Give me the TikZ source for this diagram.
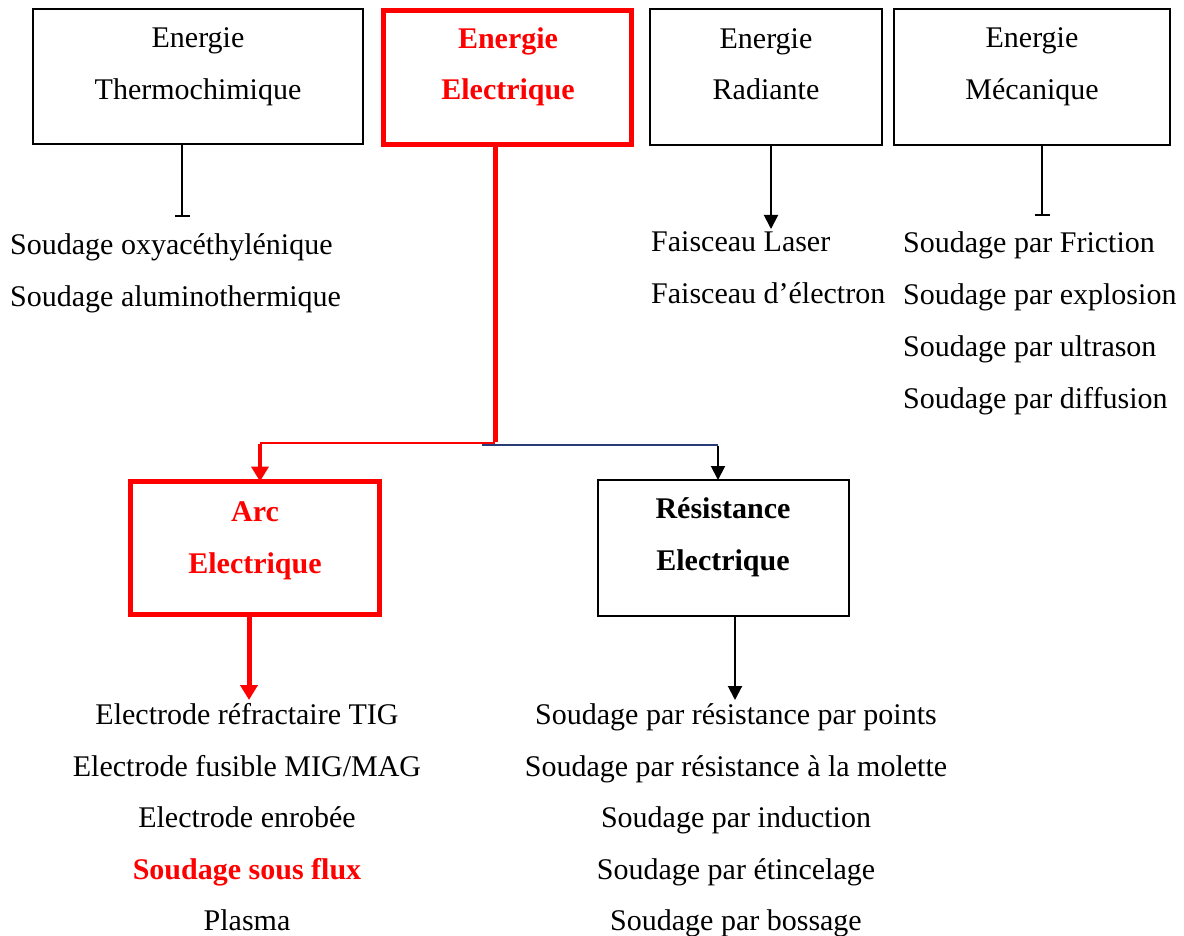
\documentclass[tikz,border=0pt]{standalone}
\usepackage{fontspec}
\setmainfont{Liberation Serif}
\usetikzlibrary{arrows.meta}
\definecolor{pred}{RGB}{255,0,0}
\definecolor{lineblue}{RGB}{40,60,120}
\begin{document}
\begin{tikzpicture}[x=1pt,y=-1pt,
  bbox/.style={draw=black,line width=2pt,minimum width=#1,inner sep=0pt,outer sep=0pt},
  rbox/.style={draw=pred,line width=5pt,minimum width=#1,inner sep=0pt,outer sep=0pt},
  txt/.style={font=\fontsize{30}{51.5}\selectfont,align=center,inner sep=0pt},
  ltxt/.style={font=\fontsize{30}{51.5}\selectfont,anchor=base west,inner sep=0pt},
  ctxt/.style={font=\fontsize{30}{51.5}\selectfont,anchor=base,inner sep=0pt},
  conn/.style={draw=black,line width=2pt},
  rconn/.style={draw=pred,line width=5pt},
  tip/.style={-{Triangle[width=14pt,length=14pt]}},
  rtip/.style={-{Triangle[width=17pt,length=15pt]}},
  bartip/.style={-{Bar[width=15pt,line width=2pt]}}
]
\useasboundingbox (0,0) rectangle (1184,936);
% boxes
\node[bbox=330pt,minimum height=135pt] (thermo) at (198,76.5) {};
\node[rbox=248pt,minimum height=134pt] (elec) at (507.5,77.5) {};
\node[bbox=232pt,minimum height=136pt] (rad) at (766,77) {};
\node[bbox=276pt,minimum height=136pt] (meca) at (1032,77) {};
\node[rbox=249pt,minimum height=133pt] (arc) at (255,548) {};
\node[bbox=251pt,minimum height=136pt] (res) at (723.5,548) {};
% box texts
\node[txt] (thermoT) at (198,67) {Energie\\Thermochimique};
\node[txt,text=pred,font=\fontsize{30}{51.5}\selectfont\bfseries] (elecT) at (508,67) {Energie\\Electrique};
\node[txt] (radT) at (766,64) {Energie\\Radiante};
\node[txt] (mecaT) at (1032,67) {Energie\\Mécanique};
\node[txt,text=pred,font=\fontsize{30}{51.5}\selectfont\bfseries] (arcT) at (255,541) {Arc\\Electrique};
\node[txt,font=\fontsize{30}{51.5}\selectfont\bfseries] (resT) at (723,537.5) {Résistance\\Electrique};
% lists
\node[ltxt] (t1) at (10,255) {Soudage oxyacéthylénique};
\node[ltxt] (t2) at (10,306) {Soudage aluminothermique};
\node[ltxt] (r1) at (651,252) {Faisceau Laser};
\node[ltxt] (r2) at (651,304) {Faisceau d’électron};
\node[ltxt] (m1) at (903,253) {Soudage par Friction};
\node[ltxt] (m2) at (903,305) {Soudage par explosion};
\node[ltxt] (m3) at (903,356) {Soudage par ultrason};
\node[ltxt] (m4) at (903,408) {Soudage par diffusion};
\node[ctxt] (a1) at (247,724) {Electrode réfractaire TIG};
\node[ctxt] (a2) at (247,776) {Electrode fusible MIG/MAG};
\node[ctxt] (a3) at (247,827) {Electrode enrobée};
\node[ctxt,text=pred,font=\fontsize{30}{51.5}\selectfont\bfseries] (a4) at (247,879) {Soudage sous flux};
\node[ctxt] (a5) at (247,930) {Plasma};
\node[ctxt] (s1) at (736,724) {Soudage par résistance par points};
\node[ctxt] (s2) at (736,776) {Soudage par résistance à la molette};
\node[ctxt] (s3) at (736,827) {Soudage par induction};
\node[ctxt] (s4) at (736,879) {Soudage par étincelage};
\node[ctxt] (s5) at (736,930) {Soudage par bossage};
% connector end points
\coordinate (thermoEnd) at (182,217);
\coordinate (radEnd) at (771,229);
\coordinate (mecaEnd) at (1042,216);
\coordinate (junc) at (495,443);
\coordinate (redL) at (260,443);
\coordinate (blueS) at (482,445);
\coordinate (blueE) at (718,445);
\coordinate (arcEnd) at (249,700);
\coordinate (resEnd) at (735,700);
% connectors
\draw[conn,bartip] (thermo.south -| thermoEnd) -- (thermoEnd);
\draw[conn,tip] (rad.south -| radEnd) -- (radEnd);
\draw[conn,bartip] (meca.south -| mecaEnd) -- (mecaEnd);
\draw[rconn] (elec.south -| junc) -- ([yshift=1pt]junc);
\draw[draw=pred,line width=2pt] (junc) -- (redL);
\draw[draw=pred,line width=4pt,rtip] ([yshift=-1pt]redL) -- (arc.north -| redL);
\draw[draw=lineblue,line width=2pt] (blueS) -- (blueE);
\draw[conn,tip] ([yshift=-1pt]blueE) -- (res.north -| blueE);
\draw[rconn,rtip] (arc.south -| arcEnd) -- (arcEnd);
\draw[conn,tip] (res.south -| resEnd) -- (resEnd);
\end{tikzpicture}
\end{document}
